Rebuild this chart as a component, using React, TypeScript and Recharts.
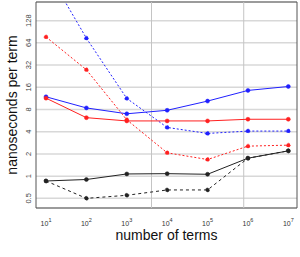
import React from 'react';
import { LineChart, Line, XAxis, YAxis, CartesianGrid, ReferenceLine, ReferenceArea, Label } from 'recharts';

const terms = [1e1, 1e2, 1e3, 1e4, 1e5, 1e6, 1e7];
const blueSolid = [11.9, 8.4, 7.0, 7.8, 10.4, 14.5, 16.4];
const blueDashed = [640, 74, 11.3, 4.57, 3.79, 4.08, 4.08];
const redSolid = [11.4, 6.2, 5.6, 5.6, 5.6, 5.9, 5.9];
const redDashed = [77, 27.6, 5.8, 2.07, 1.68, 2.55, 2.63];
const blackSolid = [0.86, 0.9, 1.07, 1.08, 1.06, 1.75, 2.2];
const blackDashed = [0.86, 0.5, 0.55, 0.65, 0.65, 1.75, 2.2];

const xTicks = [1e1, 1e2, 1e3, 1e4, 1e5, 1e6, 1e7];
const yTicks = [0.5, 1, 2, 4, 8, 16, 32, 64, 128];
// cache boundaries (terms)
const cacheLines = [4096, 786432];

const X_DOMAIN = [5.65, 1.64e7];
const Y_DOMAIN = [0.37, 229];

const data = terms.map((t, i) => ({
  terms: t,
  blueSolid: blueSolid[i],
  blueDashed: blueDashed[i],
  redSolid: redSolid[i],
  redDashed: redDashed[i],
  blackSolid: blackSolid[i],
  blackDashed: blackDashed[i],
}));

const FONT = '"Liberation Sans", Arial, sans-serif';

const XTick = ({ x, y, payload }: any) => {
  const exp = Math.round(Math.log10(payload.value));
  return (
    <text x={x} y={y + 10} textAnchor="middle" fontSize={7} fill="#333" fontFamily={FONT}>
      10<tspan dy={-4} fontSize={5.5}>{exp}</tspan>
    </text>
  );
};

const YTick = ({ y, payload }: any) => (
  <text
    x={31}
    y={y}
    transform={`rotate(-90, 31, ${y})`}
    textAnchor="middle"
    fontSize={7.5}
    fill="#444"
    fontFamily={FONT}
  >
    {payload.value}
  </text>
);

const series = [
  { key: 'blueSolid', color: '#2020ff', dash: undefined },
  { key: 'blueDashed', color: '#2020ff', dash: '2 2' },
  { key: 'redSolid', color: '#ff2020', dash: undefined },
  { key: 'redDashed', color: '#ff2020', dash: '2 2' },
  { key: 'blackSolid', color: '#222', dash: undefined },
  { key: 'blackDashed', color: '#222', dash: '3 3' },
];

export default function App() {
  return (
    <div style={{ position: 'absolute', left: 0, top: 0, width: 300, height: 257, background: '#fff' }}>
      <LineChart
        width={300}
        height={257}
        data={data}
        margin={{ top: 2, right: 3, left: 0, bottom: 0 }}
      >
        <CartesianGrid vertical={false} stroke="#d8d8d8" strokeWidth={1.5} />
        <XAxis
          dataKey="terms"
          type="number"
          scale="log"
          domain={X_DOMAIN}
          ticks={xTicks}
          interval={0}
          tick={<XTick />}
          tickLine={false}
          axisLine={false}
          allowDataOverflow
          height={49}
        >
          <Label
            value="number of terms"
            position="insideBottom"
            offset={17}
            style={{ fontSize: 14, fill: '#111', fontFamily: FONT }}
          />
        </XAxis>
        <YAxis
          type="number"
          scale="log"
          domain={Y_DOMAIN}
          ticks={yTicks}
          interval={0}
          tick={<YTick />}
          tickLine={false}
          axisLine={false}
          allowDataOverflow
          width={36}
        >
          <Label
            value="nanoseconds per term"
            content={({ viewBox }: any) => {
              const cy = viewBox.y + viewBox.height / 2;
              return (
                <text
                  x={12}
                  y={cy}
                  transform={`rotate(-90, 12, ${cy})`}
                  textAnchor="middle"
                  dominantBaseline="central"
                  fontSize={14}
                  fill="#111"
                  fontFamily={FONT}
                >
                  nanoseconds per term
                </text>
              );
            }}
          />
        </YAxis>
        {cacheLines.map((c) => (
          <ReferenceLine key={c} x={c} stroke="#c4c4c4" strokeWidth={1} />
        ))}
        {series.map((s) => (
          <Line
            key={s.key}
            dataKey={s.key}
            stroke={s.color}
            strokeWidth={1}
            strokeDasharray={s.dash}
            dot={{ r: 2, fill: s.color, stroke: s.color, strokeWidth: 0.5 }}
            isAnimationActive={false}
            type="linear"
          />
        ))}
        <ReferenceArea
          x1={X_DOMAIN[0]}
          x2={X_DOMAIN[1]}
          y1={Y_DOMAIN[0]}
          y2={Y_DOMAIN[1]}
          fill="none"
          fillOpacity={0}
          stroke="#555"
          strokeWidth={1}
          ifOverflow="visible"
        />
      </LineChart>
    </div>
  );
}
